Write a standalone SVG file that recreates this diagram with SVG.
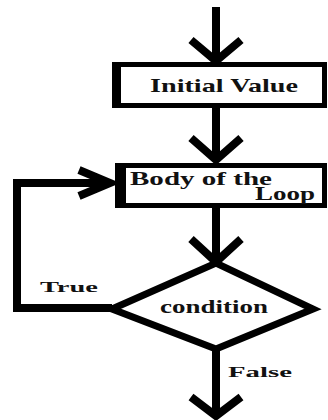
<svg xmlns="http://www.w3.org/2000/svg" width="328" height="420" viewBox="0 0 328 420">
  <style>
    .box { fill: #ffffff; stroke: #000000; stroke-width: 5; }
    .bar { fill: #000000; }
    .line { fill: none; stroke: #000000; stroke-width: 8; stroke-linejoin: miter; stroke-linecap: butt; }
    .head { fill: none; stroke: #000000; stroke-width: 8; stroke-linejoin: miter; stroke-linecap: butt; }
    .diamond { fill: #ffffff; stroke: #000000; stroke-width: 7; stroke-linejoin: miter; }
    .lbl { font-family: "Liberation Serif", "Times New Roman", serif; font-weight: bold; fill: #111111; }
  </style>
  <rect width="328" height="420" fill="#ffffff"/>

  <!-- connectors -->
  <g id="connectors">
    <!-- entry arrow -->
    <line class="line" x1="216" y1="7" x2="216" y2="60"/>
    <polyline class="head" points="191,40 216,61 241,40"/>
    <!-- initial value to body -->
    <line class="line" x1="216" y1="106" x2="216" y2="160"/>
    <polyline class="head" points="191,138 216,160 241,138"/>
    <!-- body to condition -->
    <line class="line" x1="216" y1="207" x2="216" y2="262"/>
    <polyline class="head" points="191,239 216,262 241,239"/>
    <!-- true: loop back -->
    <polyline class="line" points="112,308 17,308 17,183 110,183"/>
    <polyline class="head" points="79,170 110,183 79,196"/>
    <!-- false: exit -->
    <line class="line" x1="216" y1="348" x2="216" y2="415"/>
    <polyline class="head" points="191,397 216,416 241,397"/>
  </g>

  <g id="initial-value">
    <rect class="box" x="114.5" y="64.5" width="210" height="41"/>
    <rect class="bar" x="112" y="62" width="9" height="46"/>
    <text class="lbl" x="150" y="92" font-size="19" textLength="148" lengthAdjust="spacingAndGlyphs">Initial Value</text>
  </g>

  <g id="body">
    <rect class="box" x="117.5" y="165.5" width="207" height="40"/>
    <rect class="bar" x="115" y="163" width="11" height="45"/>
    <text class="lbl" x="130" y="185" font-size="19" textLength="142" lengthAdjust="spacingAndGlyphs">Body of the</text>
    <text class="lbl" x="255" y="200" font-size="19" textLength="60" lengthAdjust="spacingAndGlyphs">Loop</text>
  </g>

  <g id="condition">
    <polygon class="diamond" points="112,309 216,263 313,309 216,349"/>
    <text class="lbl" x="160" y="313" font-size="18" textLength="108" lengthAdjust="spacingAndGlyphs">condition</text>
  </g>

  <g id="labels">
    <text class="lbl" x="40" y="292" font-size="15" textLength="58" lengthAdjust="spacingAndGlyphs">True</text>
    <text class="lbl" x="228" y="377" font-size="15" textLength="64" lengthAdjust="spacingAndGlyphs">False</text>
  </g>
</svg>
